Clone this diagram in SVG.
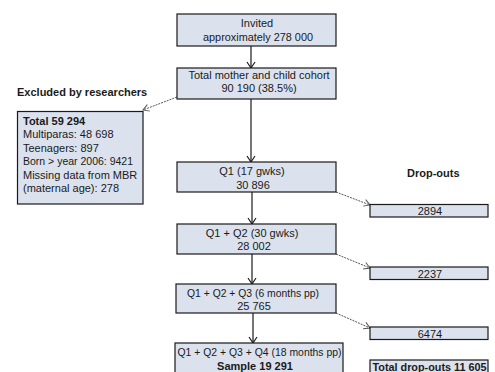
<svg xmlns="http://www.w3.org/2000/svg" width="495" height="372" viewBox="0 0 495 372">
<defs>
<style>
.box{fill:#dbe2ee;stroke:#1a1a1a;stroke-width:1.2}
.t{font-family:"Liberation Sans",Arial,sans-serif;font-size:11px;fill:#1a1a1a}
.c{text-anchor:middle}
.b{font-weight:bold}
.arr{stroke:#1a1a1a;stroke-width:1.2;fill:none}
.dot{stroke:#555;stroke-width:1;stroke-dasharray:2 1;fill:none}
</style>
<marker id="ah" markerUnits="userSpaceOnUse" markerWidth="12" markerHeight="12" refX="10" refY="6" orient="auto">
<path d="M4,2 L10,6 L4,10" fill="none" stroke="#1a1a1a" stroke-width="1.2"/>
</marker>
<marker id="ahd" markerUnits="userSpaceOnUse" markerWidth="12" markerHeight="12" refX="10" refY="6" orient="auto">
<path d="M4,2.5 L10,6 L4,9.5" fill="none" stroke="#555" stroke-width="1"/>
</marker>
</defs>
<rect width="495" height="372" fill="#ffffff"/>

<g id="connectors">
<line class="arr" x1="251" y1="46" x2="251" y2="68" marker-end="url(#ah)"/>
<line class="arr" x1="251" y1="99" x2="251" y2="162" marker-end="url(#ah)"/>
<line class="arr" x1="252" y1="192" x2="252" y2="224" marker-end="url(#ah)"/>
<line class="arr" x1="252" y1="254" x2="252" y2="284" marker-end="url(#ah)"/>
<line class="arr" x1="253" y1="313" x2="253" y2="343" marker-end="url(#ah)"/>
<line class="dot" x1="177" y1="97" x2="143" y2="110" marker-end="url(#ahd)"/>
<line class="dot" x1="336" y1="192" x2="370" y2="205" marker-end="url(#ahd)"/>
<line class="dot" x1="336" y1="254" x2="370" y2="268" marker-end="url(#ahd)"/>
<line class="dot" x1="336" y1="313" x2="370" y2="328" marker-end="url(#ahd)"/>
</g>

<g id="invited">
<rect class="box" x="177" y="14" width="159" height="32"/>
<text class="t c" x="257" y="27">Invited</text>
<text class="t c" x="258" y="40.5" textLength="110" lengthAdjust="spacingAndGlyphs">approximately 278 000</text>
</g>

<g id="cohort">
<rect class="box" x="177" y="68" width="159" height="31"/>
<text class="t c" x="259" y="78.5">Total mother and child cohort</text>
<text class="t c" x="259" y="92">90 190 (38.5%)</text>
</g>

<g id="excluded">
<text class="t b" x="17" y="95.5">Excluded by researchers</text>
<rect class="box" x="17.5" y="111.5" width="125.5" height="92.5"/>
<text class="t b" x="23" y="124.5">Total 59 294</text>
<text class="t" x="23" y="138">Multiparas: 48 698</text>
<text class="t" x="23" y="151.5">Teenagers: 897</text>
<text class="t" x="23" y="165" textLength="110" lengthAdjust="spacingAndGlyphs">Born &gt; year 2006: 9421</text>
<text class="t" x="23" y="178.5">Missing data from MBR</text>
<text class="t" x="23" y="192">(maternal age): 278</text>
</g>

<g id="q1">
<rect class="box" x="177" y="162" width="159" height="30"/>
<text class="t c" x="252" y="175">Q1 (17 gwks)</text>
<text class="t c" x="253" y="189">30 896</text>
</g>

<g id="q2">
<rect class="box" x="177" y="224" width="159" height="30"/>
<text class="t c" x="252" y="236.5">Q1 + Q2 (30 gwks)</text>
<text class="t c" x="254" y="250">28 002</text>
</g>

<g id="q3">
<rect class="box" x="176" y="284" width="160" height="29"/>
<text class="t c" x="253" y="297" textLength="132" lengthAdjust="spacingAndGlyphs">Q1 + Q2 + Q3 (6 months pp)</text>
<text class="t c" x="254" y="310">25 765</text>
</g>

<g id="q4">
<rect class="box" x="175" y="343" width="168" height="40"/>
<text class="t c" x="259.5" y="356" textLength="164" lengthAdjust="spacingAndGlyphs">Q1 + Q2 + Q3 + Q4 (18 months pp)</text>
<text class="t c b" x="255" y="369.5">Sample 19 291</text>
</g>

<g id="dropouts-label">
<text class="t b" x="407" y="176.5">Drop-outs</text>
</g>

<g id="d1">
<rect class="box" x="370" y="204.5" width="118" height="12.5"/>
<text class="t c" x="430" y="215">2894</text>
</g>

<g id="d2">
<rect class="box" x="370" y="267" width="118" height="12.5"/>
<text class="t c" x="430" y="277.5">2237</text>
</g>

<g id="d3">
<rect class="box" x="370" y="327" width="118" height="12.5"/>
<text class="t c" x="430" y="337.5">6474</text>
</g>

<g id="total-dropouts">
<rect class="box" x="370" y="360" width="118" height="20"/>
<text class="t c b" x="429.5" y="370.5" textLength="114" lengthAdjust="spacingAndGlyphs">Total drop-outs 11 605</text>
</g>
</svg>
